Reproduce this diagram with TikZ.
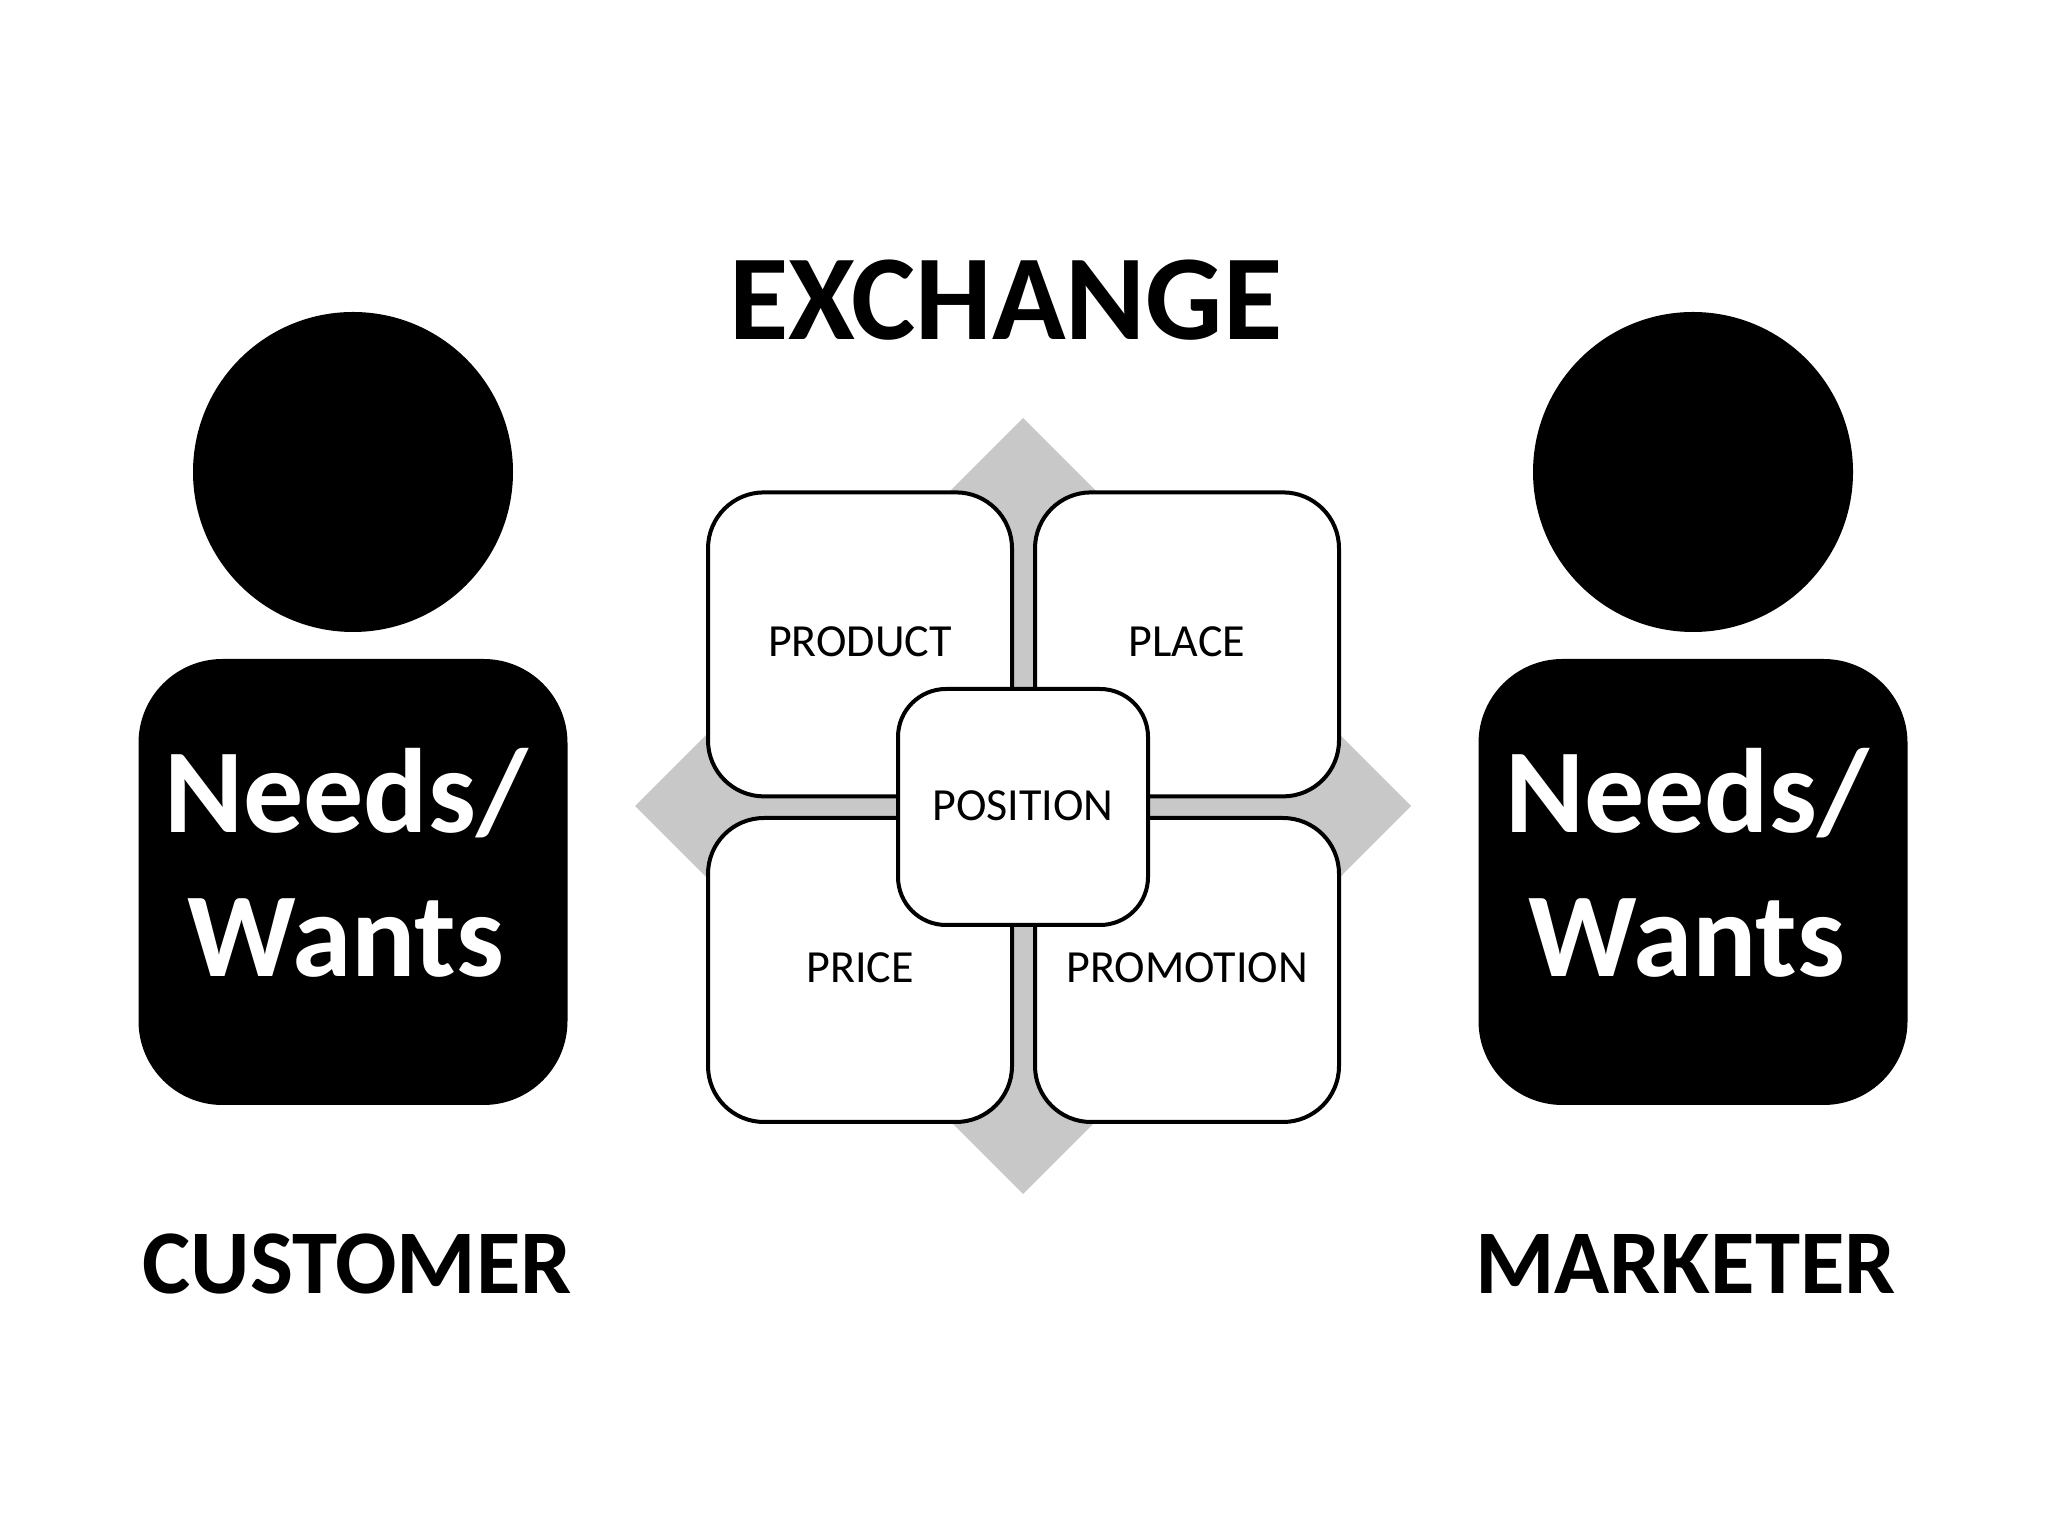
\documentclass[tikz,border=0pt]{standalone}
\usepackage{fontspec}
\setmainfont{Carlito}
\usetikzlibrary{positioning}
\usepackage{xcolor}
\definecolor{crossgray}{RGB}{200,200,200}
\tikzset{mixbox/.style={rectangle, draw=black, fill=white, line width=2pt, rounded corners=28pt, minimum width=152pt, minimum height=152pt, inner sep=0pt, text depth=2.6pt, font=\fontsize{23}{27}\selectfont},
positionbox/.style={rectangle, draw=black, fill=white, line width=2pt, rounded corners=24pt, minimum width=125pt, minimum height=118pt, inner sep=0pt, text depth=1.3pt, font=\fontsize{23}{27}\selectfont},
headnode/.style={circle, fill=black, minimum size=160pt, inner sep=0pt},
bodynode/.style={rectangle, fill=black, rounded corners=42pt, minimum width=214.5pt, minimum height=223pt, inner sep=0pt},
needsnode/.style={anchor=base, text=white, inner sep=0pt, font=\bfseries\fontsize{60}{72}\selectfont},
rolenode/.style={anchor=base, inner sep=0pt, font=\bfseries\fontsize{45.5}{55}\selectfont}}

\begin{document}
\begin{tikzpicture}
                \useasboundingbox (0pt, 0pt) rectangle (1024pt, 768pt);

                % Title
                \node[rolenode, font=\bfseries\fontsize{60.7}{73}\selectfont] (exchange) at (503pt, 598pt) {EXCHANGE};

                % Cross
                \fill[crossgray] (511.5pt, 559pt) -- (705.5pt, 365pt) -- (511.5pt, 171pt) -- (317.5pt, 365pt) -- cycle;

                % Boxes
                \node[mixbox] (product) at (430pt, 445.8pt) {PRODUCT};
                \node[mixbox] (place) at (593.5pt, 445.8pt) {PLACE};
                \node[mixbox] (price) at (430pt, 283pt) {PRICE};
                \node[mixbox] (promotion) at (593.5pt, 283pt) {PROMOTION};
                \node[positionbox] (position) at (511.5pt, 364.5pt) {POSITION};

                % Persons
                \foreach \person/\x/\textx/\rolex/\role in {customer/176.5pt/173pt/178.6pt/CUSTOMER, marketer/846.5pt/843.5pt/842.7pt/MARKETER} {
\node[headnode] (\person head) at (\x, 532pt) {};
\node[bodynode] (\person body) at (\x, 327pt) {};
\node[needsnode] (\person needs) at (\textx, 351.5pt) {Needs/};
\node[needsnode] (\person wants) at (\textx, 279.5pt) {Wants};
\node[rolenode] (\person role) at (\rolex, 121.5pt) {\role};
}
            \end{tikzpicture}
\end{document}
